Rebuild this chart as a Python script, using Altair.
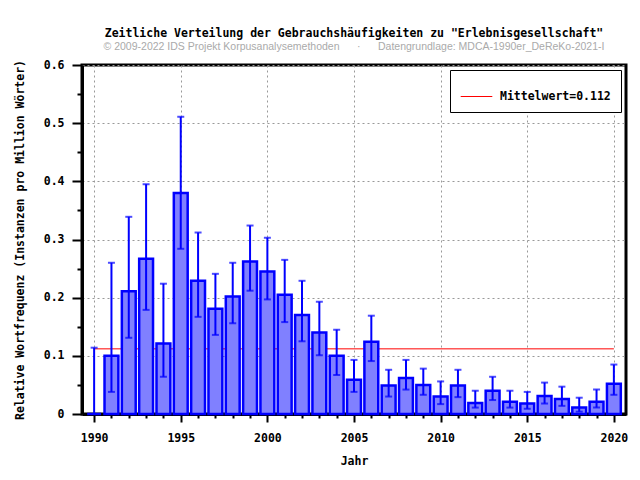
import altair as alt
import pandas as pd

years = list(range(1990, 2021))
values = [0.0, 0.100, 0.211, 0.267, 0.121, 0.380, 0.229, 0.181, 0.202, 0.262, 0.245,
          0.205, 0.170, 0.140, 0.100, 0.059, 0.124, 0.049, 0.062, 0.050, 0.030,
          0.049, 0.019, 0.040, 0.021, 0.018, 0.031, 0.026, 0.011, 0.021, 0.052]
err_low = [0.0, 0.038, 0.131, 0.179, 0.064, 0.284, 0.167, 0.136, 0.156, 0.212, 0.197,
           0.158, 0.125, 0.101, 0.067, 0.038, 0.091, 0.030, 0.042, 0.033, 0.017,
           0.029, 0.011, 0.024, 0.011, 0.009, 0.018, 0.014, 0.004, 0.011, 0.033]
err_high = [0.114, 0.260, 0.339, 0.395, 0.224, 0.511, 0.312, 0.241, 0.260, 0.324, 0.303,
            0.265, 0.229, 0.193, 0.145, 0.093, 0.169, 0.076, 0.093, 0.078, 0.056,
            0.076, 0.040, 0.064, 0.040, 0.038, 0.054, 0.047, 0.028, 0.042, 0.085]
mean_value = 0.112
mean_label = "Mittelwert=0.112"
x_ticks = list(range(1990, 2021))
y_ticks = [round(i * 0.05, 2) for i in range(13)]

df = pd.DataFrame({"year": years, "value": values, "low": err_low, "high": err_high})
mean_df = pd.DataFrame({"start": [years[0]], "end": [years[-1]], "value": [mean_value],
                        "label": [mean_label]})

MONO = "DejaVu Sans Mono"
BLUE = "#0000ff"

xscale = alt.Scale(domain=[1989.3, 2020.7], nice=False, zero=False)
yscale = alt.Scale(domain=[0, 0.6], nice=False, zero=True)

xaxis = alt.Axis(
    values=x_ticks, orient="bottom", format="d",
    labelExpr="datum.value % 5 === 0 ? format(datum.value, 'd') : ''",
    tickSize={"condition": {"test": "datum.value % 5 === 0", "value": 8}, "value": 4},
    gridOpacity={"condition": {"test": "datum.value % 5 === 0", "value": 1}, "value": 0},
    labelOverlap=False, labelPadding=10, titlePadding=12,
)
yaxis = alt.Axis(
    values=y_ticks, orient="left",
    labelExpr="round(datum.value*100) % 10 === 0 ? (datum.value === 0 ? '0' : format(datum.value, '.1f')) : ''",
    tickSize={"condition": {"test": "round(datum.value*100) % 10 === 0", "value": 10}, "value": 5},
    gridOpacity={"condition": {"test": "round(datum.value*100) % 10 === 0", "value": 1}, "value": 0},
    labelOverlap=False, labelPadding=8, titlePadding=18,
)
XT = "Jahr"
YT = "Relative Wortfrequenz (Instanzen pro Million Wörter)"

base = alt.Chart(df)

mean_rule = alt.Chart(mean_df).mark_rule(strokeWidth=1).encode(
    x=alt.X("start:Q", scale=xscale, axis=xaxis, title=XT),
    x2="end:Q",
    y=alt.Y("value:Q", scale=yscale, axis=yaxis, title=YT),
    color=alt.Color("label:N", scale=alt.Scale(range=["#ff0000"]),
                    legend=alt.Legend(title=None, orient="top-right", offset=5,
                                      fillColor="white", strokeColor="black",
                                      padding=10, symbolType="stroke", symbolSize=1000,
                                      symbolStrokeWidth=1, labelFont=MONO,
                                      labelFontWeight="bold", labelFontSize=11.5,
                                      labelOffset=7, labelLimit=300)),
)

bars = base.transform_calculate(
    x0="datum.year - 0.4", x1="datum.year + 0.4"
).mark_bar(fill="#8080ff", stroke=BLUE, strokeWidth=2.5).encode(
    x=alt.X("x0:Q", scale=xscale, axis=xaxis, title=XT),
    x2="x1:Q",
    y=alt.Y("value:Q", scale=yscale, axis=yaxis, title=YT),
    y2=alt.datum(0),
)

err = base.mark_rule(color=BLUE, strokeWidth=2).encode(
    x=alt.X("year:Q", scale=xscale, axis=xaxis, title=XT),
    y=alt.Y("low:Q", scale=yscale, axis=yaxis, title=YT),
    y2="high:Q",
)
cap_hi = base.mark_tick(orient="horizontal", color=BLUE, thickness=2, size=7).encode(
    x=alt.X("year:Q", scale=xscale, axis=xaxis, title=XT),
    y=alt.Y("high:Q", scale=yscale, axis=yaxis, title=YT),
)
cap_lo = base.mark_tick(orient="horizontal", color=BLUE, thickness=2, size=7).encode(
    x=alt.X("year:Q", scale=xscale, axis=xaxis, title=XT),
    y=alt.Y("low:Q", scale=yscale, axis=yaxis, title=YT),
)

sp = "\u00a0" * 6
chart = alt.layer(mean_rule, bars, err, cap_hi, cap_lo).properties(
    width=544, height=349,
    autosize=alt.AutoSizeParams(type="none"),
    padding={"left": 74, "top": 57, "right": 6, "bottom": 56},
    title=alt.TitleParams(
        text='Zeitliche Verteilung der Gebrauchshäufigkeiten zu "Erlebnisgesellschaft"',
        subtitle="© 2009-2022 IDS Projekt Korpusanalysemethoden" + sp + "·" + sp
                 + "Datengrundlage: MDCA-1990er_DeReKo-2021-I",
        font=MONO, fontSize=11.5, fontWeight="bold", color="black",
        subtitleFont="Liberation Sans", subtitleFontSize=10.5, subtitleColor="#aaaaaa",
        subtitlePadding=2, offset=7, anchor="middle",
    ),
).configure_view(
    stroke="black", strokeWidth=3
).configure_axis(
    domainColor="black", domainWidth=3, tickColor="black", tickWidth=2,
    gridColor="#999999", gridDash=[2, 3], gridWidth=1,
    labelFont=MONO, labelFontWeight="bold", labelFontSize=11.5, labelColor="black",
    titleFont=MONO, titleFontWeight="bold", titleFontSize=11.5, titleColor="black",
)

chart.save("out.html", embed_options={"renderer": "svg", "actions": False})
